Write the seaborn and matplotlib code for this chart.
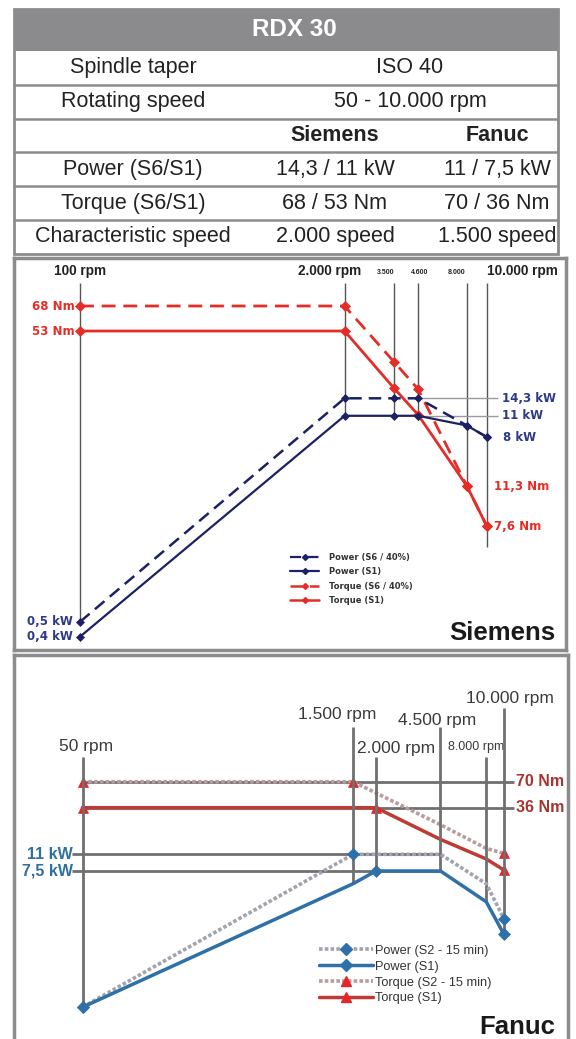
import matplotlib
matplotlib.use("Agg")
import matplotlib.pyplot as plt
import numpy as np
import seaborn as sns
from matplotlib import font_manager
from matplotlib.lines import Line2D
from matplotlib.patches import Rectangle

W, H = 576, 1039

# ---- table content
TITLE = "RDX 30"
row_labels = ["Spindle taper", "Rotating speed", "", "Power (S6/S1)",
              "Torque (S6/S1)", "Characteristic speed"]
shared_values = ["ISO 40", "50 - 10.000 rpm"]
siemens_values = ["Siemens", "14,3 / 11 kW", "68 / 53 Nm", "2.000 speed"]
fanuc_values = ["Fanuc", "11 / 7,5 kW", "70 / 36 Nm", "1.500 speed"]

# ---- Siemens curves (rpm, kW, Nm)
sie_rpm = [100, 2000, 3500, 4600, 8000, 10000]
sie_power_s6 = [0.5, 14.3, 14.3, 14.3, 9.5, 8.0]
sie_power_s1 = [0.4, 11.0, 11.0, 11.0, 9.5, 8.0]
sie_torque_s6 = [68, 68, 39, 29.7, 11.3, 7.6]
sie_torque_s1 = [53, 53, 30, 23, 11.3, 7.6]
sie_rpm_labels = ["100 rpm", "2.000 rpm", "3.500", "4.600", "8.000", "10.000 rpm"]
sie_series = ["Power (S6 / 40%)", "Power (S1)", "Torque (S6 / 40%)", "Torque (S1)"]

# ---- Fanuc curves (rpm, kW, Nm)
fan_rpm = [50, 1500, 2000, 4500, 8000, 10000]
fan_power_s2 = [0.33, 11.0, 11.0, 11.0, 5.6, 2.5]
fan_power_s1 = [0.33, 5.6, 7.5, 7.5, 3.7, 1.75]
fan_torque_s2 = [70, 70, 52.5, 23.3, 12.7, 11.2]
fan_torque_s1 = [36, 36, 36, 16, 9.7, 7.3]
fan_rpm_labels = ["50 rpm", "1.500 rpm", "2.000 rpm", "4.500 rpm", "8.000 rpm", "10.000 rpm"]
fan_series = ["Power (S2 - 15 min)", "Power (S1)", "Torque (S2 - 15 min)", "Torque (S1)"]

# ---- colours
FRAME = "#8c8c8e"
NAVY = "#1c2163"
SIE_RED = "#e52d27"
SIE_BLUE_TXT = "#2d3a8a"
FAN_BLUE = "#2f70a8"
FAN_DOT = "#a3a3b0"
FAN_RED_LINE = "#bf3a33"
FAN_RED_MK = "#e4262b"
FAN_TORQUE_DOT = "#b99d9d"
FAN_RED_TXT = "#a8342f"
FAN_BLUE_TXT = "#30709e"
TXT = "#222222"

sns.set_style("white")
plt.rcParams["font.family"] = ["Liberation Sans", "DejaVu Sans"]

names = {f.name for f in font_manager.fontManager.ttflist}
NARROW = "Liberation Sans Narrow" if "Liberation Sans Narrow" in names else "Liberation Sans"
TSIZE = 18 if NARROW == "Liberation Sans Narrow" else 15.5


def log_at(anchor, px):
    (v_a, p_a), (v_b, p_b) = anchor
    slope = (np.log10(v_b) - np.log10(v_a)) / (p_b - p_a)
    return 10 ** (np.log10(v_a) + (px - p_a) * slope)


def fx(box, px):
    return (px - box[0]) / (box[2] - box[0])


def make_panel(box, x_anchor, t_anchor, p_anchor):
    left, top, right, bottom = box
    ax_t = fig.add_axes([left / W, 1 - bottom / H, (right - left) / W, (bottom - top) / H])
    ax_p = ax_t.twinx()
    for a in (ax_t, ax_p):
        a.set_xscale("log")
        a.set_yscale("log")
        for axis in (a.xaxis, a.yaxis):
            axis.set_major_locator(plt.NullLocator())
            axis.set_minor_locator(plt.NullLocator())
        a.set_facecolor("none")
    ax_t.set_xlim(log_at(x_anchor, left), log_at(x_anchor, right))
    ax_t.set_ylim(log_at(t_anchor, bottom), log_at(t_anchor, top))
    ax_p.set_ylim(log_at(p_anchor, bottom), log_at(p_anchor, top))
    for s in ax_t.spines.values():
        s.set_color(FRAME)
        s.set_linewidth(2.5)
    for s in ax_p.spines.values():
        s.set_visible(False)
    return ax_t, ax_p


def draw(ax, x, y, color, ls, lw, marker, ms, mcolor, markevery=None):
    sns.lineplot(x=x, y=y, ax=ax, color=color, linestyle=ls, lw=lw, marker=marker,
                 markersize=ms, markerfacecolor=mcolor, markeredgecolor=mcolor,
                 markeredgewidth=0.5, markevery=markevery, errorbar=None, zorder=3)
    ax.set_xlabel("")
    ax.set_ylabel("")


fig = plt.figure(figsize=(W / 100, H / 100), dpi=100)

# ---- background axes in pixel units (table + free text)
bg = fig.add_axes([0, 0, 1, 1])
bg.set_xlim(0, W)
bg.set_ylim(H, 0)
bg.axis("off")

T_LEFT, T_RIGHT, T_TOP, T_BOTTOM = 14, 558, 9, 254
ROW0, ROW_H = 51, 33.8
bg.add_patch(Rectangle((T_LEFT, T_TOP), T_RIGHT - T_LEFT, ROW0 - T_TOP, color="#8b8b8d", lw=0))
bg.add_patch(Rectangle((T_LEFT, T_TOP), T_RIGHT - T_LEFT, T_BOTTOM - T_TOP,
                       fill=False, edgecolor=FRAME, lw=2))
for i in range(1, 6):
    y = ROW0 + i * ROW_H
    bg.plot([T_LEFT, T_RIGHT], [y, y], color=FRAME, lw=1.8)
bg.text(294, (T_TOP + ROW0) / 2, TITLE, color="white",
        fontsize=TSIZE + 2, fontweight="bold", family=NARROW, ha="center", va="center")

col_x = [133, 335, 497]
for i, lab in enumerate(row_labels):
    yc = ROW0 + (i + 0.5) * ROW_H
    bg.text(col_x[0], yc, lab, fontsize=TSIZE, family=NARROW, color=TXT, ha="center", va="center")
for i, val in enumerate(shared_values):
    yc = ROW0 + (i + 0.5) * ROW_H
    bg.text(410, yc, val, fontsize=TSIZE, family=NARROW, color=TXT, ha="center", va="center")
for j, (sv, fv) in enumerate(zip(siemens_values, fanuc_values)):
    yc = ROW0 + (j + 2.5) * ROW_H
    weight = "bold" if j == 0 else "normal"
    bg.text(col_x[1], yc, sv, fontsize=TSIZE, family=NARROW, color=TXT, ha="center",
            va="center", fontweight=weight)
    bg.text(col_x[2], yc, fv, fontsize=TSIZE, family=NARROW, color=TXT, ha="center",
            va="center", fontweight=weight)

# ---- Siemens panel
SIE_BOX = (14, 258, 566, 650)
SIE_X = ((100, 80), (10000, 486.7))
SIE_T = ((68, 306), (7.6, 526))
SIE_P = ((14.3, 398.3), (0.4, 636.7))
ax_t, ax_p = make_panel(SIE_BOX, SIE_X, SIE_T, SIE_P)

guide_bottom = [621, 415, 415, 415, 486, 547]
ax_t.vlines(sie_rpm, [log_at(SIE_T, b) for b in guide_bottom], log_at(SIE_T, 283),
            colors="#555555", lw=1, zorder=1)
ax_p.hlines([14.3, 11], 4600, log_at(SIE_X, 498), colors="#9a9a9a", lw=1, zorder=1)

dash = (0, (5, 2.8))
draw(ax_t, sie_rpm, sie_torque_s6, SIE_RED, dash, 2, "D", 5, SIE_RED)
draw(ax_t, sie_rpm, sie_torque_s1, SIE_RED, "-", 2, "D", 5, SIE_RED)
draw(ax_p, sie_rpm, sie_power_s6, NAVY, dash, 1.8, "D", 4.5, NAVY)
draw(ax_p, sie_rpm, sie_power_s1, NAVY, "-", 1.6, "D", 4.5, NAVY)

lab_kw = dict(fontsize=8.5, fontweight="bold", family="DejaVu Sans", va="center")
for txt, val, px, ha in [("68 Nm", 68, 75, "right"), ("53 Nm", 53, 75, "right"),
                         ("11,3 Nm", 11.3, 494, "left"), ("7,6 Nm", 7.6, 494, "left")]:
    ax_t.text(fx(SIE_BOX, px), val, txt, color=SIE_RED, ha=ha,
              transform=ax_t.get_yaxis_transform(), **lab_kw)
for txt, val, px, ha in [("0,5 kW", 0.5, 73, "right"), ("0,4 kW", 0.4, 73, "right"),
                         ("14,3 kW", 14.3, 502, "left"), ("11 kW", 11, 502, "left"),
                         ("8 kW", 8, 503, "left")]:
    ax_p.text(fx(SIE_BOX, px), val, txt, color=SIE_BLUE_TXT, ha=ha,
              transform=ax_p.get_yaxis_transform(), **lab_kw)

sie_lab_pos = [(80, 271), (330, 271), (386, 273), (420, 273), (457, 273), (522, 271)]
for txt, (px, py) in zip(sie_rpm_labels, sie_lab_pos):
    small = "rpm" not in txt
    bg.text(px, py, txt, fontsize=5 if small else 9.8, fontweight="bold", color="#222222",
            ha="center", va="center")
bg.text(555, 633, "Siemens", fontsize=18.5, fontweight="bold", color="#1a1a1a",
        ha="right", va="center")

sie_handles = [
    Line2D([], [], color=NAVY, ls=dash, lw=1.6, marker="D", ms=3, mfc=NAVY, mec=NAVY),
    Line2D([], [], color=NAVY, ls="-", lw=1.6, marker="D", ms=3, mfc=NAVY, mec=NAVY),
    Line2D([], [], color=SIE_RED, ls=dash, lw=1.8, marker="D", ms=3, mfc=SIE_RED, mec=SIE_RED),
    Line2D([], [], color=SIE_RED, ls="-", lw=1.8, marker="D", ms=3, mfc=SIE_RED, mec=SIE_RED),
]
fig.legend(sie_handles, sie_series, loc="center left", bbox_to_anchor=(286 / W, 1 - 579 / H),
           frameon=False, borderpad=0, handlelength=3.5, handletextpad=1.2, labelspacing=0.65,
           prop={"family": "DejaVu Sans", "weight": "bold", "size": 6}, labelcolor="#333333")

# ---- Fanuc panel
FAN_BOX = (14, 655, 568, 1037)
FAN_X = ((50, 82.5), (10000, 504))
FAN_T = ((70, 781.7), (36, 807.7))
FAN_P = ((11, 854.3), (7.5, 871))
fax_t, fax_p = make_panel(FAN_BOX, FAN_X, FAN_T, FAN_P)
fax_t.spines["bottom"].set_visible(False)

fan_top = [757, 727, 757, 727, 757, 708]
fan_bottom = [1006.7, 883, 871, 871, 901.7, 934]
fax_p.vlines(fan_rpm, [log_at(FAN_P, b) for b in fan_bottom],
             [log_at(FAN_P, t) for t in fan_top], colors="#707070", lw=2, zorder=1)
fax_t.hlines([70, 36], 50, log_at(FAN_X, 514), colors="#707070", lw=2, zorder=1)
fax_p.hlines([11, 7.5], log_at(FAN_X, 72), 4500, colors="#707070", lw=2, zorder=1)

dots = (0, (1, 0.6))
draw(fax_p, fan_rpm, fan_power_s2, FAN_DOT, dots, 2.6, "D", 6, FAN_BLUE, [0, 1, 5])
draw(fax_p, fan_rpm, fan_power_s1, FAN_BLUE, "-", 2.5, "D", 6, FAN_BLUE, [0, 2, 5])
draw(fax_t, fan_rpm, fan_torque_s2, FAN_TORQUE_DOT, dots, 2.6, "^", 7, FAN_RED_MK, [0, 1, 5])
draw(fax_t, fan_rpm, fan_torque_s1, FAN_RED_LINE, "-", 2.5, "^", 7, FAN_RED_MK, [0, 2, 5])

flab = dict(fontsize=11.5, fontweight="bold", va="center")
for txt, val in [("70 Nm", 70), ("36 Nm", 36)]:
    fax_t.text(fx(FAN_BOX, 516), val, txt, color=FAN_RED_TXT, ha="left",
               transform=fax_t.get_yaxis_transform(), **flab)
for txt, val in [("11 kW", 11), ("7,5 kW", 7.5)]:
    fax_p.text(fx(FAN_BOX, 73), val, txt, color=FAN_BLUE_TXT, ha="right",
               transform=fax_p.get_yaxis_transform(), **flab)

fan_lab_pos = [(86, 746), (337, 715), (396, 748), (437, 720), (476, 747), (510, 699)]
for txt, (px, py) in zip(fan_rpm_labels, fan_lab_pos):
    if txt.startswith("8."):
        bg.text(px, py, txt, fontsize=9, family=NARROW, color="#3a3a3a", ha="center", va="center")
    else:
        bg.text(px, py, txt, fontsize=12.5, color="#3a3a3a", ha="center", va="center")
bg.text(555, 1027, "Fanuc", fontsize=18.5, fontweight="bold", color="#1a1a1a",
        ha="right", va="center")

fan_handles = [
    Line2D([], [], color=FAN_DOT, ls=dots, lw=2.6, marker="D", ms=6, mfc=FAN_BLUE, mec=FAN_BLUE),
    Line2D([], [], color=FAN_BLUE, ls="-", lw=2.5, marker="D", ms=6, mfc=FAN_BLUE, mec=FAN_BLUE),
    Line2D([], [], color=FAN_TORQUE_DOT, ls=dots, lw=2.6, marker="^", ms=7, mfc=FAN_RED_MK, mec=FAN_RED_MK),
    Line2D([], [], color=FAN_RED_LINE, ls="-", lw=2.5, marker="^", ms=7, mfc=FAN_RED_MK, mec=FAN_RED_MK),
]
fig.legend(fan_handles, fan_series, loc="center left", bbox_to_anchor=(313 / W, 1 - 974.6 / H),
           frameon=False, borderpad=0, handlelength=4.2, handletextpad=0.15, labelspacing=0.3,
           prop={"family": "Liberation Sans", "size": 9.2}, labelcolor="#333333")

fig.savefig("out.png", dpi=100)
